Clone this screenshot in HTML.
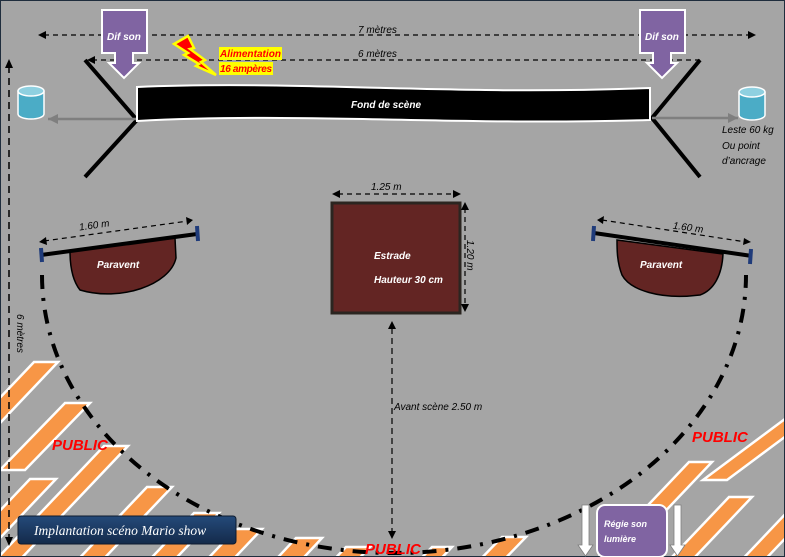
<!DOCTYPE html>
<html><head><meta charset="utf-8"><style>
html,body{margin:0;padding:0;background:#a5a5a5;width:785px;height:557px;overflow:hidden}
svg{display:block}
text{font-family:"Liberation Sans",sans-serif;font-style:italic}
</style></head><body>
<svg width="785" height="557" viewBox="0 0 785 557" xmlns="http://www.w3.org/2000/svg">
<defs>
<marker id="gh" markerWidth="12" markerHeight="10" refX="10" refY="5" orient="auto" markerUnits="userSpaceOnUse"><path d="M0,0 L10,5 L0,10 z" fill="#7f7f7f"/></marker>
<linearGradient id="nv" x1="0" y1="0" x2="0" y2="1"><stop offset="0" stop-color="#244a7a"/><stop offset="1" stop-color="#142a4a"/></linearGradient>
<clipPath id="cl"><rect x="1" y="1" width="783" height="555"/></clipPath>
</defs>
<rect x="0" y="0" width="785" height="557" fill="#a5a5a5" stroke="#1f2d3d" stroke-width="2"/>
<g clip-path="url(#cl)" fill="#f79646" stroke="#fff" stroke-width="2.5">
<polygon points="34,362 58,362 -18,442 -42,442"/>
<polygon points="65,403 90,403 25,470 0,470"/>
<polygon points="104,446 128,446 14,566 -10,566"/>
<polygon points="30,479 56,479 -39,579 -65,579"/>
<polygon points="147,487 172,487 77,587 52,587"/>
<polygon points="194,513 219,513 162,573 137,573"/>
<polygon points="236,529 262,529 224,569 198,569"/>
<polygon points="296,538 322,538 294,568 268,568"/>
<polygon points="346,547 370,547 351,567 327,567"/>
<polygon points="432,547 452,547 433,567 413,567"/>
<polygon points="502,537 526,537 497,567 473,567"/>
<polygon points="689,462 712,462 598,582 575,582"/>
<polygon points="729,497 752,497 676,577 653,577"/>
<polygon points="797,410 821,410 727,480 703,480"/>
<polygon points="792,507 815,507 739,587 716,587"/>
</g>
<path d="M42 275 A352 278 0 0 0 746 275" fill="none" stroke="#000" stroke-width="4" stroke-dasharray="14 9 3 9"/>
<line x1="44" y1="35" x2="750" y2="35" stroke="#000" stroke-width="1.2" stroke-dasharray="5 4"/>
<path d="M46,31 L38,35 L46,39 z M748,31 L756,35 L748,39 z" fill="#000"/>
<text x="358" y="33" font-size="10">7 mètres</text>
<line x1="92" y1="60" x2="700" y2="60" stroke="#000" stroke-width="1.2" stroke-dasharray="5 4"/>
<path d="M95,56 L87,60 L95,64 z" fill="#000"/>
<text x="358" y="57" font-size="10">6 mètres</text>
<line x1="9" y1="66" x2="9" y2="540" stroke="#000" stroke-width="1.5" stroke-dasharray="7 5"/>
<path d="M5,68 L9,59 L13,68 z M5,537 L9,546 L13,537 z" fill="#000"/>
<text transform="translate(17,314) rotate(90)" font-size="10">6 mètres</text>
<path d="M85,60 L137,120 L85,177 M700,60 L652,118 L700,177" fill="none" stroke="#000" stroke-width="4"/>
<line x1="137" y1="119" x2="48" y2="119" stroke="#7f7f7f" stroke-width="2.5" marker-end="url(#gh)"/>
<line x1="652" y1="118" x2="738" y2="118" stroke="#7f7f7f" stroke-width="2.5" marker-end="url(#gh)"/>
<g stroke="#fff" stroke-width="1.5" fill="#4bacc6">
<path d="M18,91 L18,114 A13,5 0 0 0 44,114 L44,91"/><ellipse cx="31" cy="91" rx="13" ry="5" fill="#8fd0e0"/>
<path d="M739,92 L739,115 A13,5 0 0 0 765,115 L765,92"/><ellipse cx="752" cy="92" rx="13" ry="5" fill="#8fd0e0"/>
</g>
<text x="722" y="133" font-size="10">Leste 60 kg</text>
<text x="722" y="149" font-size="10">Ou point</text>
<text x="722" y="164" font-size="10">d’ancrage</text>
<path d="M137,87 C300,80 450,96 650,88 L650,120 C450,126 300,112 137,121 z" fill="#000" stroke="#fff" stroke-width="2"/>
<text x="351" y="108" font-size="10" font-weight="bold" fill="#fff">Fond de scène</text>
<g fill="#8064a2" stroke="#fff" stroke-width="2">
<path d="M102,10 L147,10 L147,53 L133,53 L133,63 L139,63 L124,78 L109,63 L115,63 L115,53 L102,53 z"/>
<path d="M640,10 L685,10 L685,53 L671,53 L671,63 L677,63 L662,78 L647,63 L653,63 L653,53 L640,53 z"/>
</g>
<text x="107" y="40" font-size="10" font-weight="bold" fill="#fff">Dif son</text>
<text x="645" y="40" font-size="10" font-weight="bold" fill="#fff">Dif son</text>
<path d="M174,44 L188,36 L194,48 L190,49 L205,60 L201,62 L216,75 L196,66 L199,64 L184,55 L188,53 z" fill="#ff0000" stroke="#ffff00" stroke-width="2.5"/>
<rect x="219" y="47" width="63" height="13" fill="#ffff00"/>
<rect x="219" y="62" width="54" height="13" fill="#ffff00"/>
<text x="220" y="57" font-size="10" fill="#ff0000" font-weight="bold" textLength="61">Alimentation</text>
<text x="220" y="72" font-size="10" fill="#ff0000" font-weight="bold" textLength="52">16 ampères</text>
<line x1="338" y1="194" x2="455" y2="194" stroke="#000" stroke-width="1.2" stroke-dasharray="5 4"/>
<path d="M340,190 L332,194 L340,198 z M453,190 L461,194 L453,198 z" fill="#000"/>
<text x="371" y="190" font-size="10">1.25 m</text>
<rect x="332" y="203" width="128" height="110" fill="#632523" stroke="#2b2520" stroke-width="3"/>
<line x1="465" y1="208" x2="465" y2="306" stroke="#000" stroke-width="1.2" stroke-dasharray="5 4"/>
<path d="M461,210 L465,202 L469,210 z M461,304 L465,312 L469,304 z" fill="#000"/>
<text transform="translate(467,240) rotate(90)" font-size="10">1.20 m</text>
<text x="374" y="259" font-size="10" font-weight="bold" fill="#fff">Estrade</text>
<text x="374" y="283" font-size="10" font-weight="bold" fill="#fff">Hauteur 30 cm</text>
<line x1="392" y1="328" x2="392" y2="532" stroke="#000" stroke-width="1.2" stroke-dasharray="6 4"/>
<path d="M388,329 L392,321 L396,329 z M388,531 L392,539 L396,531 z" fill="#000"/>
<text x="394" y="410" font-size="10">Avant scène 2.50 m</text>
<path d="M70,251 L175,238 L176,258 C170,285 120,302 80,290 C72,280 70,265 70,251 z" fill="#632523" stroke="#000" stroke-width="1.5"/>
<line x1="41" y1="255" x2="197" y2="234" stroke="#000" stroke-width="4"/>
<line x1="41" y1="248" x2="42" y2="262" stroke="#1f3b7a" stroke-width="4"/>
<line x1="197" y1="226" x2="198" y2="241" stroke="#1f3b7a" stroke-width="4"/>
<line x1="44" y1="241" x2="188" y2="221" stroke="#000" stroke-width="1.2" stroke-dasharray="5 4"/>
<path d="M46,237 L39,242 L47,245 z M186,217 L193,220 L187,225 z" fill="#000"/>
<text x="79" y="229" font-size="10" transform="rotate(-8 90 226)">1.60 m</text>
<text x="97" y="268" font-size="10" font-weight="bold" fill="#fff">Paravent</text>
<path d="M617,240 L723,254 C722,275 714,290 700,295 C660,300 630,290 622,275 C617,262 617,250 617,240 z" fill="#632523" stroke="#000" stroke-width="1.5"/>
<line x1="594" y1="233" x2="752" y2="256" stroke="#000" stroke-width="4"/>
<line x1="594" y1="226" x2="593" y2="241" stroke="#1f3b7a" stroke-width="4"/>
<line x1="751" y1="249" x2="750" y2="264" stroke="#1f3b7a" stroke-width="4"/>
<line x1="602" y1="220" x2="746" y2="242" stroke="#000" stroke-width="1.2" stroke-dasharray="5 4"/>
<path d="M604,216 L597,220 L603,224 z M744,238 L751,242 L743,245 z" fill="#000"/>
<text x="673" y="230" font-size="10" transform="rotate(8 683 226)">1.60 m</text>
<text x="640" y="268" font-size="10" font-weight="bold" fill="#fff">Paravent</text>
<g font-size="15" font-weight="bold" fill="#ff0000">
<text x="52" y="450">PUBLIC</text>
<text x="692" y="442">PUBLIC</text>
<text x="365" y="554">PUBLIC</text>
</g>
<rect x="18" y="516" width="218" height="28" rx="3" fill="url(#nv)" stroke="#0d1a2e"/>
<text x="34" y="535" font-size="13.5" fill="#fff" style="font-family:'Liberation Serif',serif">Implantation scéno Mario show</text>
<path d="M582,505 L589,505 L589,545 L593,545 L585.5,556 L578,545 L582,545 z M674,505 L681,505 L681,545 L685,545 L677.5,556 L670,545 L674,545 z" fill="#fff" stroke="#7f7f7f" stroke-width="0.8"/>
<rect x="597" y="505" width="70" height="52" rx="8" fill="#8064a2" stroke="#fff" stroke-width="2"/>
<text x="604" y="527" font-size="9" font-weight="bold" fill="#fff">Régie son</text>
<text x="604" y="542" font-size="9" font-weight="bold" fill="#fff">lumière</text>
</svg>
</body></html>
